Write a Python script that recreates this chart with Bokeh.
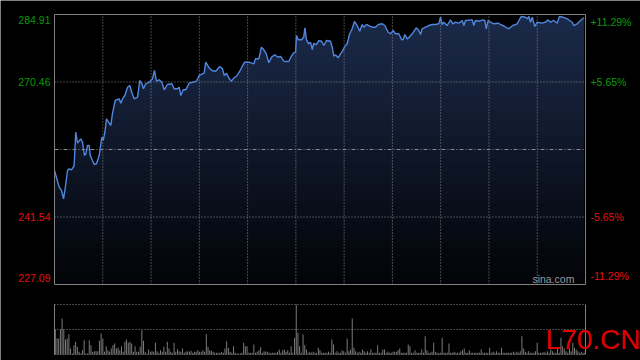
import numpy as np
from bokeh.plotting import figure
from bokeh.models import Range1d
from bokeh.core.properties import value
from bokeh.embed import file_html
from bokeh.resources import INLINE

# ---------------- data ----------------
prev_close = 256.00
y_min, y_max = 227.09, 284.91
left_ticks = [284.91, 270.46, 241.54, 227.09]
left_labels = ["284.91", "270.46", "241.54", "227.09"]
right_labels = ["+11.29%", "+5.65%", "-5.65%", "-11.29%"]
session_minutes = 330
half_hours = [30, 60, 90, 120, 150, 180, 210, 240, 270, 300]

minutes = [0, 2.9, 4.4, 5.6, 6.6, 8.1, 9.1, 10.6, 12.2, 13.2, 14.3, 16.3, 17.4, 18.6, 19.5, 20.5, 21.6, 22.2,
           24.7, 26.1, 27.8, 29.4, 30.3, 31.3, 32.3, 33.6, 35.0, 36.0, 37.7, 40.2, 41.2, 42.3, 43.7, 45.4, 46.8,
           48.0, 49.5, 51.6, 53.0, 54.3, 55.3, 56.7, 58.9, 60.9, 62.1, 63.4, 65.1, 66.7, 68.2, 70.2, 72.9, 74.4,
           76.4, 77.5, 78.5, 80.0, 81.6, 83.7, 85.8, 88.2, 89.9, 93.0, 94.0, 96.1, 97.8, 100.2, 102.7, 104.4,
           105.5, 106.9, 108.6, 110.0, 111.4, 113.5, 115.6, 118.1, 120.8, 123.9, 124.9, 127.0, 128.6, 130.1,
           131.6, 133.2, 134.9, 136.9, 138.8, 140.5, 142.5, 145.6, 147.1, 148.7, 149.8, 150.4, 151.5, 153.5,
           154.9, 155.6, 156.6, 158.0, 159.1, 160.2, 161.1, 162.6, 164.3, 165.9, 167.4, 169.0, 171.5, 172.6,
           173.6, 174.6, 176.3, 177.7, 179.2, 180.4, 181.9, 183.3, 185.0, 186.4, 188.1, 189.7, 191.2, 192.2,
           193.9, 195.3, 197.4, 199.5, 201.2, 203.7, 205.3, 207.4, 208.8, 210.5, 211.9, 214.0, 215.7, 216.7,
           217.7, 219.2, 220.2, 222.3, 224.8, 226.4, 227.5, 228.5, 230.6, 232.6, 234.7, 236.8, 238.8, 239.9,
           240.9, 241.9, 244.0, 246.1, 247.5, 249.2, 251.3, 253.4, 254.4, 255.4, 259.6, 260.6, 261.6, 264.1,
           266.2, 267.4, 268.3, 269.5, 271.0, 273.0, 275.7, 277.2, 279.8, 282.3, 284.8, 287.5, 290.0, 292.7,
           293.8, 294.8, 295.8, 296.9, 298.5, 300.0, 303.1, 305.1, 306.8, 308.2, 310.3, 312.4, 313.8, 315.9,
           318.6, 321.7, 322.7, 324.8, 326.9, 329.0]

prices = [251.50, 247.93, 247.22, 245.44, 247.58, 251.50, 251.87, 251.65, 252.57, 259.70, 257.35, 258.29,
          257.56, 254.72, 255.08, 256.86, 256.86, 254.72, 252.79, 252.94, 254.72, 258.63, 257.93, 259.70,
          262.57, 261.85, 261.14, 263.64, 266.49, 266.86, 265.92, 266.86, 267.56, 269.34, 269.71, 268.27,
          266.86, 267.20, 270.78, 270.07, 269.00, 270.07, 270.41, 271.14, 272.92, 270.63, 270.93, 270.41,
          268.78, 269.92, 270.07, 269.00, 269.00, 269.34, 267.56, 268.78, 268.78, 270.20, 270.41, 270.63,
          271.85, 272.34, 274.70, 273.50, 272.92, 272.77, 273.78, 273.28, 271.85, 272.34, 271.14, 270.63,
          271.27, 271.85, 273.07, 274.70, 274.70, 274.35, 275.42, 275.42, 277.91, 277.35, 276.49, 274.57,
          275.77, 276.28, 275.77, 275.92, 274.91, 274.85, 275.92, 276.71, 276.84, 280.41, 279.49, 279.49,
          280.05, 282.06, 279.49, 278.63, 278.98, 277.41, 278.76, 278.42, 279.34, 279.19, 278.27, 279.34,
          279.19, 277.91, 275.98, 276.28, 275.64, 276.49, 277.20, 278.06, 278.64, 280.63, 281.85, 283.41,
          282.55, 281.33, 282.77, 282.19, 282.77, 282.55, 282.19, 282.19, 282.77, 282.92, 282.55, 281.12,
          280.78, 281.48, 280.78, 280.78, 279.49, 279.56, 280.63, 279.71, 279.92, 280.78, 282.06, 281.48,
          280.63, 281.85, 282.19, 282.55, 282.77, 282.77, 282.92, 284.33, 282.77, 283.26, 282.55, 283.76,
          282.92, 283.26, 283.05, 283.63, 282.55, 283.63, 283.76, 282.55, 283.63, 283.47, 283.76, 283.63,
          281.85, 283.63, 283.26, 282.92, 283.05, 282.77, 282.34, 281.85, 282.55, 282.92, 284.48, 284.33,
          283.99, 284.48, 283.26, 284.33, 282.34, 283.26, 283.05, 283.26, 283.76, 283.26, 283.63, 283.05,
          284.48, 284.33, 283.99, 283.26, 282.55, 282.92, 283.63, 284.20]

volumes = [75, 48, 48, 75, 108, 75, 45, 48, 61, 18, 3, 28, 38, 23, 8, 3, 13, 43, 3, 3, 43, 28, 8, 10, 10, 10,
           41, 63, 48, 8, 25, 13, 8, 18, 28, 33, 18, 21, 13, 25, 8, 38, 45, 35, 38, 33, 8, 25, 8, 8, 23, 73, 41,
           8, 3, 15, 8, 10, 8, 35, 10, 5, 13, 8, 23, 8, 38, 18, 8, 5, 35, 8, 16, 10, 8, 18, 5, 8, 10, 8, 11, 5, 8,
           8, 13, 8, 8, 13, 8, 61, 23, 13, 11, 8, 5, 5, 5, 5,
           8, 5, 18, 40, 20, 8, 5, 25, 5, 3, 3, 3, 5, 35, 25, 25, 5, 5, 5, 30, 5, 8, 13, 22, 5, 10, 8, 8, 5, 5, 5,
           5, 5, 8, 15, 5, 13, 15, 8, 13, 5, 25, 5, 50, 150, 65, 25, 5, 60, 28, 15, 5, 8, 5, 8, 5, 5, 20, 13, 5, 5,
           5, 5, 8, 5, 45, 30, 5, 10, 5, 5, 13, 10, 5, 48, 10, 15, 108, 20, 10, 5, 8, 5, 15, 10, 5, 10, 5, 15, 5, 5,
           5, 28, 5, 5, 15, 15, 5, 8, 5, 5, 8, 8, 8, 13, 18, 5, 5, 5, 5, 30, 25, 5, 5, 13, 5, 5, 5, 15, 5, 55, 13,
           5, 5, 8, 35, 8, 5, 5,
           5, 50, 5, 5, 5, 33, 5, 5, 8, 5, 5, 5, 10, 13, 18, 5, 5, 13, 5, 5, 5, 5, 5, 5, 15, 5, 5, 5, 5, 20, 5, 8,
           5, 10, 5, 5, 20, 5, 5, 5, 5, 5, 5, 8, 5, 8, 5, 10, 55, 18, 8, 5, 10, 5, 5, 5, 10, 35, 5, 5, 5, 8, 5, 10,
           5, 15, 10, 5, 5, 18, 5, 50, 25, 18, 10, 5, 18, 10, 35, 20, 15, 10, 5, 8, 5, 5]
vol_max = 150

assert len(minutes) == len(prices), (len(minutes), len(prices))

GREEN = "#0a9a0a"
RED = "#e01010"
GRID = "#8a8a8a"
FONT = "Liberation Sans"

# ---------------- canvas geometry (whole page is one frame) ----------------
W, H = 640, 360
plot_l, plot_r, plot_t, plot_b = 54, 585, 14, 284      # price panel frame (px)
vol_t, vol_b = 304, 354                                # volume panel frame (px)
kx = (plot_r - plot_l) / session_minutes
ky = (plot_b - plot_t) / (y_max - y_min)
kv = (vol_b - vol_t) / vol_max

x_start = -plot_l / kx
x_end = session_minutes + (W - plot_r) / kx
y_end = y_max + plot_t / ky
y_start = y_min - (H - plot_b) / ky
v_end = vol_max + vol_t / kv
v_start = -(H - vol_b) / kv

p = figure(width=W, height=H, x_range=Range1d(x_start, x_end), y_range=Range1d(y_start, y_end),
           x_axis_type=None, y_axis_type=None, output_backend="svg", toolbar_location=None,
           background_fill_color="black", border_fill_color="black",
           min_border=0, min_border_left=0, min_border_right=0, min_border_top=0, min_border_bottom=0)
p.outline_line_color = None
p.extra_y_ranges = {"vol": Range1d(v_start, v_end)}

xs = np.array(minutes, dtype=float)
ys = np.array(prices, dtype=float)

# vertical gradient fill under the price line (layered bands)
top_rgb = np.array([27, 42, 74])
bot_rgb = np.array([2, 3, 6])
levels = np.linspace(y_min, y_max, 61)[1:]
for top in levels[::-1]:
    t = (top - y_min) / (y_max - y_min)
    c = (bot_rgb + t * (top_rgb - bot_rgb)).round().astype(int)
    p.varea(x=xs, y1=y_min, y2=np.minimum(ys, top), fill_color="#%02x%02x%02x" % tuple(c), fill_alpha=1.0)

# grid of price panel
p.segment(x0=half_hours, y0=[y_min] * len(half_hours), x1=half_hours, y1=[y_max] * len(half_hours),
          line_color=GRID, line_dash="1 2", line_width=1)
p.segment(x0=[0, 0], y0=[left_ticks[1], left_ticks[2]], x1=[session_minutes] * 2,
          y1=[left_ticks[1], left_ticks[2]], line_color=GRID, line_dash="1 2", line_width=1)
p.segment(x0=[0], y0=[prev_close], x1=[session_minutes], y1=[prev_close],
          line_color=GRID, line_dash="4 2 1 2", line_width=1)

# price line
p.line(xs, ys, line_color="#4f86de", line_width=1.4)

# price panel frame
p.quad(left=[0], right=[session_minutes], bottom=[y_min], top=[y_max],
       fill_color=None, line_color="#808080", line_width=1)

# axis labels
baselines = ["top", "middle", "middle", "bottom"]
offsets = [1, 0, 0, -3]
colors = [GREEN, GREEN, RED, RED]
p.text(x=[-2.5] * 4, y=left_ticks, text=left_labels, text_align="right",
       text_baseline=baselines, text_color=colors, y_offset=offsets,
       text_font_size="10.5px", text_font=value(FONT))
p.text(x=[session_minutes + 3.1] * 4, y=left_ticks, text=right_labels, text_align="left",
       text_baseline=baselines, text_color=colors, y_offset=offsets,
       text_font_size="10.5px", text_font=value(FONT))

p.text(x=[297.0], y=[y_min], text=["sina.com"], text_align="left", text_baseline="bottom",
       text_color="#9a9a9a", text_font_size="10.5px", text_font=value(FONT))

# ---------------- volume panel ----------------
vx = np.linspace(0.5, session_minutes - 0.5, len(volumes))
p.vbar(x=vx, top=volumes, bottom=0, width=0.6, fill_color="#7f7f7f", line_color=None,
       y_range_name="vol")
p.segment(x0=[0, 0, 0], y0=[vol_max, vol_max / 2, 0], x1=[session_minutes] * 3,
          y1=[vol_max, vol_max / 2, 0], line_color=GRID, line_dash="1 2", line_width=1,
          y_range_name="vol")
p.segment(x0=[0, session_minutes], y0=[0, 0], x1=[0, session_minutes], y1=[vol_max, vol_max],
          line_color="#808080", line_width=1, y_range_name="vol")

p.text(x=[305.2], y=[45], text=["L70.CN"], text_align="left", text_baseline="middle",
       text_color="#e00000", text_font_size="28px", text_font=value(FONT), y_range_name="vol")

open("out.html", "w").write(file_html(p, INLINE))
